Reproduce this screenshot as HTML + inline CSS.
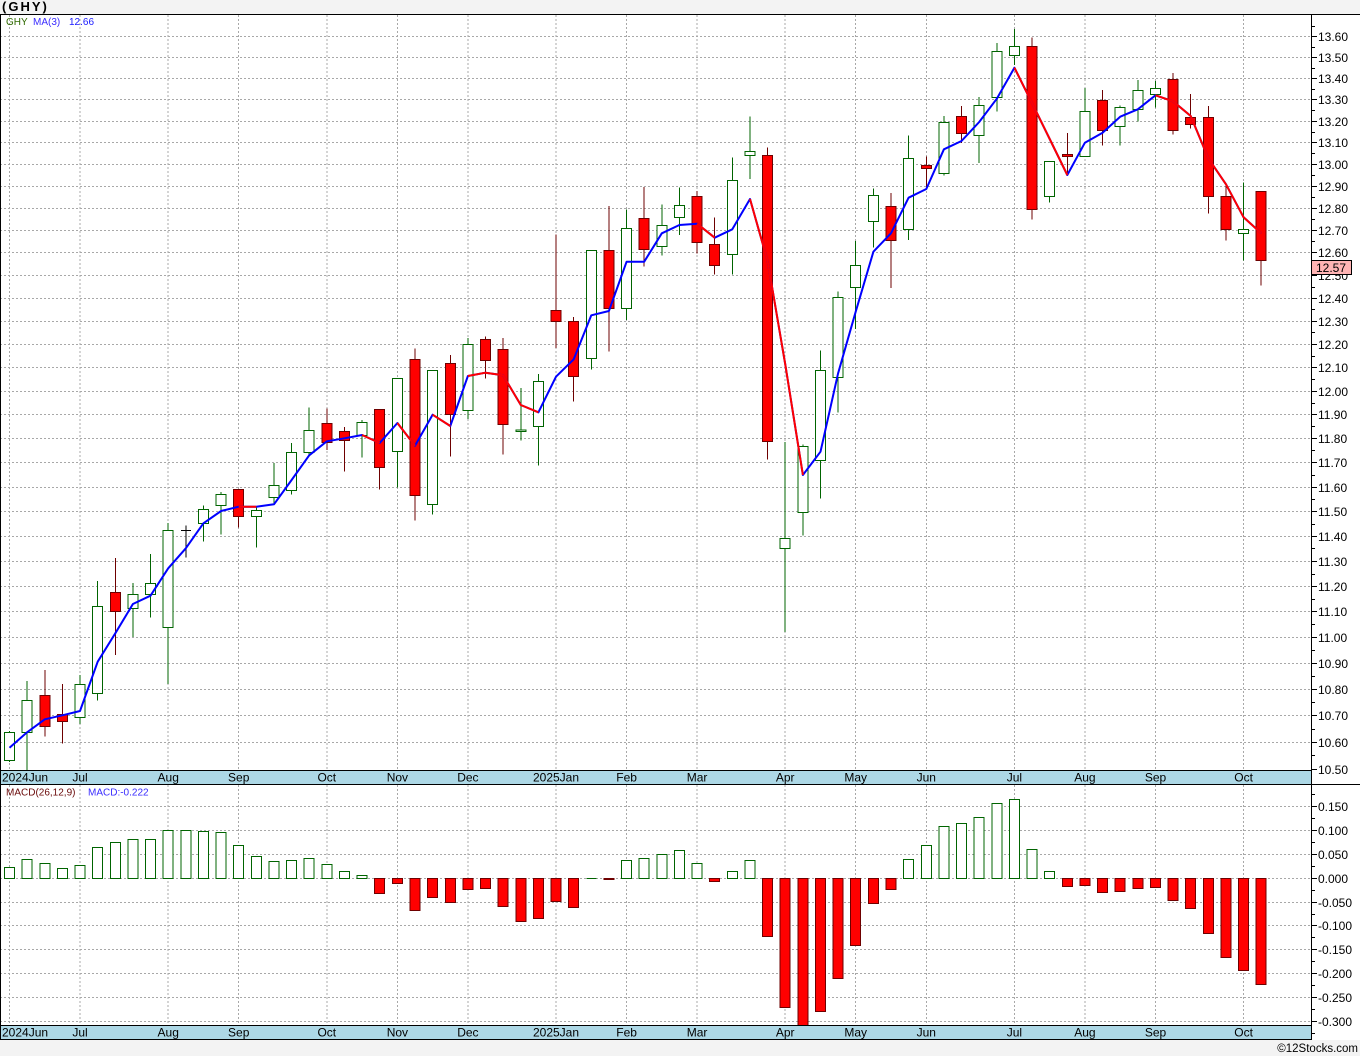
<!DOCTYPE html>
<html><head><meta charset="utf-8"><style>
html,body{margin:0;padding:0;background:#f3f3f3;}
svg{display:block;}
text{font-family:"Liberation Sans",Arial,sans-serif;}
</style></head><body>
<svg width="1360" height="1056" viewBox="0 0 1360 1056" xmlns="http://www.w3.org/2000/svg">
<rect x="0" y="0" width="1360" height="1056" fill="#f3f3f3"/>
<rect x="0" y="14" width="1360" height="1026" fill="#ffffff"/>
<text x="2" y="11" font-size="13" font-weight="bold" letter-spacing="2" fill="#000">(GHY)</text>

<!-- main horizontal grid -->
<g stroke="#a8a8a8" stroke-width="1" stroke-dasharray="2,2" shape-rendering="crispEdges">
<line x1="0" x2="1311" y1="36.5" y2="36.5"/><line x1="0" x2="1311" y1="57.5" y2="57.5"/><line x1="0" x2="1311" y1="78.5" y2="78.5"/><line x1="0" x2="1311" y1="99.5" y2="99.5"/><line x1="0" x2="1311" y1="121.5" y2="121.5"/><line x1="0" x2="1311" y1="142.5" y2="142.5"/><line x1="0" x2="1311" y1="164.5" y2="164.5"/><line x1="0" x2="1311" y1="186.5" y2="186.5"/><line x1="0" x2="1311" y1="208.5" y2="208.5"/><line x1="0" x2="1311" y1="230.5" y2="230.5"/><line x1="0" x2="1311" y1="252.5" y2="252.5"/><line x1="0" x2="1311" y1="275.5" y2="275.5"/><line x1="0" x2="1311" y1="298.5" y2="298.5"/><line x1="0" x2="1311" y1="321.5" y2="321.5"/><line x1="0" x2="1311" y1="344.5" y2="344.5"/><line x1="0" x2="1311" y1="367.5" y2="367.5"/><line x1="0" x2="1311" y1="391.5" y2="391.5"/><line x1="0" x2="1311" y1="414.5" y2="414.5"/><line x1="0" x2="1311" y1="438.5" y2="438.5"/><line x1="0" x2="1311" y1="462.5" y2="462.5"/><line x1="0" x2="1311" y1="487.5" y2="487.5"/><line x1="0" x2="1311" y1="511.5" y2="511.5"/><line x1="0" x2="1311" y1="536.5" y2="536.5"/><line x1="0" x2="1311" y1="561.5" y2="561.5"/><line x1="0" x2="1311" y1="586.5" y2="586.5"/><line x1="0" x2="1311" y1="611.5" y2="611.5"/><line x1="0" x2="1311" y1="637.5" y2="637.5"/><line x1="0" x2="1311" y1="663.5" y2="663.5"/><line x1="0" x2="1311" y1="689.5" y2="689.5"/><line x1="0" x2="1311" y1="715.5" y2="715.5"/><line x1="0" x2="1311" y1="742.5" y2="742.5"/>
<!-- macd grid -->
<line x1="0" x2="1311" y1="806.5" y2="806.5"/><line x1="0" x2="1311" y1="830.5" y2="830.5"/><line x1="0" x2="1311" y1="854.5" y2="854.5"/><line x1="0" x2="1311" y1="878.5" y2="878.5"/><line x1="0" x2="1311" y1="902.5" y2="902.5"/><line x1="0" x2="1311" y1="925.5" y2="925.5"/><line x1="0" x2="1311" y1="949.5" y2="949.5"/><line x1="0" x2="1311" y1="973.5" y2="973.5"/><line x1="0" x2="1311" y1="997.5" y2="997.5"/><line x1="0" x2="1311" y1="1021.5" y2="1021.5"/>
</g>
<!-- vertical grid -->
<g stroke="#a8a8a8" stroke-width="1" stroke-dasharray="2,2" shape-rendering="crispEdges">
<line x1="9.5" x2="9.5" y1="15" y2="770"/><line x1="80" x2="80" y1="15" y2="770"/><line x1="168.2" x2="168.2" y1="15" y2="770"/><line x1="238.7" x2="238.7" y1="15" y2="770"/><line x1="326.8" x2="326.8" y1="15" y2="770"/><line x1="397.4" x2="397.4" y1="15" y2="770"/><line x1="467.9" x2="467.9" y1="15" y2="770"/><line x1="556" x2="556" y1="15" y2="770"/><line x1="626.6" x2="626.6" y1="15" y2="770"/><line x1="697.1" x2="697.1" y1="15" y2="770"/><line x1="785.2" x2="785.2" y1="15" y2="770"/><line x1="855.7" x2="855.7" y1="15" y2="770"/><line x1="926.3" x2="926.3" y1="15" y2="770"/><line x1="1014.4" x2="1014.4" y1="15" y2="770"/><line x1="1084.9" x2="1084.9" y1="15" y2="770"/><line x1="1155.5" x2="1155.5" y1="15" y2="770"/><line x1="1243.6" x2="1243.6" y1="15" y2="770"/>
<line x1="9.5" x2="9.5" y1="785" y2="1025"/><line x1="80" x2="80" y1="785" y2="1025"/><line x1="168.2" x2="168.2" y1="785" y2="1025"/><line x1="238.7" x2="238.7" y1="785" y2="1025"/><line x1="326.8" x2="326.8" y1="785" y2="1025"/><line x1="397.4" x2="397.4" y1="785" y2="1025"/><line x1="467.9" x2="467.9" y1="785" y2="1025"/><line x1="556" x2="556" y1="785" y2="1025"/><line x1="626.6" x2="626.6" y1="785" y2="1025"/><line x1="697.1" x2="697.1" y1="785" y2="1025"/><line x1="785.2" x2="785.2" y1="785" y2="1025"/><line x1="855.7" x2="855.7" y1="785" y2="1025"/><line x1="926.3" x2="926.3" y1="785" y2="1025"/><line x1="1014.4" x2="1014.4" y1="785" y2="1025"/><line x1="1084.9" x2="1084.9" y1="785" y2="1025"/><line x1="1155.5" x2="1155.5" y1="785" y2="1025"/><line x1="1243.6" x2="1243.6" y1="785" y2="1025"/>
</g>

<!-- legends -->
<text x="6" y="25" font-size="10" fill="#2f6a00">GHY</text>
<text x="33" y="25" font-size="10" fill="#3a2cff">MA(3)</text>
<text x="69" y="25" font-size="10" fill="#1a1aff">12.66</text>
<text x="6" y="795.5" font-size="10" fill="#6a0a0a">MACD(26,12,9)</text>
<text x="88" y="795.5" font-size="10" fill="#3a2cff">MACD:-0.222</text>

<!-- candles: green -->
<g stroke="#006400" fill="#ffffff" stroke-width="1" shape-rendering="crispEdges">
<line x1="9.5" x2="9.5" y1="731" y2="762"/><rect x="4.5" y="732.5" width="10" height="28"/>
<line x1="27.1" x2="27.1" y1="681" y2="770"/><rect x="22.1" y="700.5" width="10" height="32"/>
<line x1="80" x2="80" y1="675" y2="724"/><rect x="75" y="684.5" width="10" height="33"/>
<line x1="97.7" x2="97.7" y1="581" y2="700.7"/><rect x="92.7" y="606.5" width="10" height="87"/>
<line x1="132.9" x2="132.9" y1="583" y2="637"/><rect x="127.9" y="594.5" width="10" height="14"/>
<line x1="150.5" x2="150.5" y1="554" y2="617.7"/><rect x="145.5" y="583.5" width="10" height="11"/>
<line x1="168.2" x2="168.2" y1="523" y2="684"/><rect x="163.2" y="530.5" width="10" height="97"/>
<line x1="203.4" x2="203.4" y1="505.3" y2="541.7"/><rect x="198.4" y="509.5" width="10" height="14"/>
<line x1="221.1" x2="221.1" y1="492" y2="534.7"/><rect x="216.1" y="494.5" width="10" height="11"/>
<line x1="256.3" x2="256.3" y1="507.7" y2="547.7"/><rect x="251.3" y="510.5" width="10" height="6"/>
<line x1="274" x2="274" y1="463" y2="503.3"/><rect x="269" y="485.5" width="10" height="12"/>
<line x1="291.6" x2="291.6" y1="443" y2="494.7"/><rect x="286.6" y="452.5" width="10" height="38"/>
<line x1="309.2" x2="309.2" y1="407.7" y2="455"/><rect x="304.2" y="430.5" width="10" height="22"/>
<line x1="362.1" x2="362.1" y1="420" y2="457.3"/><rect x="357.1" y="422.5" width="10" height="13"/>
<line x1="397.4" x2="397.4" y1="378" y2="487.3"/><rect x="392.4" y="378.5" width="10" height="73"/>
<line x1="432.6" x2="432.6" y1="370" y2="514.3"/><rect x="427.6" y="370.5" width="10" height="134"/>
<line x1="467.9" x2="467.9" y1="338" y2="419"/><rect x="462.9" y="344.5" width="10" height="66"/>
<line x1="520.8" x2="520.8" y1="388" y2="440.7"/><rect x="515.8" y="430" width="10" height="1.5"/>
<line x1="538.4" x2="538.4" y1="374" y2="465.7"/><rect x="533.4" y="381.5" width="10" height="45"/>
<line x1="591.3" x2="591.3" y1="250" y2="369.7"/><rect x="586.3" y="250.5" width="10" height="108"/>
<line x1="626.6" x2="626.6" y1="209.3" y2="320"/><rect x="621.6" y="228.5" width="10" height="80"/>
<line x1="661.8" x2="661.8" y1="204.7" y2="255.7"/><rect x="656.8" y="225.5" width="10" height="21"/>
<line x1="679.4" x2="679.4" y1="187.7" y2="235"/><rect x="674.4" y="205.5" width="10" height="12"/>
<line x1="732.3" x2="732.3" y1="157.3" y2="274.3"/><rect x="727.3" y="180.5" width="10" height="74"/>
<line x1="750" x2="750" y1="116.7" y2="179"/><rect x="745" y="151.5" width="10" height="4"/>
<line x1="785.2" x2="785.2" y1="442" y2="632"/><rect x="780.2" y="538.5" width="10" height="10"/>
<line x1="802.9" x2="802.9" y1="444.3" y2="535.7"/><rect x="797.9" y="446.5" width="10" height="66"/>
<line x1="820.5" x2="820.5" y1="350.7" y2="498.3"/><rect x="815.5" y="370.5" width="10" height="90"/>
<line x1="838.1" x2="838.1" y1="291.3" y2="412.3"/><rect x="833.1" y="297.5" width="10" height="80"/>
<line x1="855.7" x2="855.7" y1="241" y2="329"/><rect x="850.7" y="265.5" width="10" height="22"/>
<line x1="873.4" x2="873.4" y1="188.7" y2="247.7"/><rect x="868.4" y="195.5" width="10" height="26"/>
<line x1="908.6" x2="908.6" y1="135.7" y2="240"/><rect x="903.6" y="158.5" width="10" height="71"/>
<line x1="943.9" x2="943.9" y1="116" y2="175.7"/><rect x="938.9" y="122.5" width="10" height="51"/>
<line x1="979.2" x2="979.2" y1="97" y2="163"/><rect x="974.2" y="105.5" width="10" height="30"/>
<line x1="996.8" x2="996.8" y1="43" y2="111.7"/><rect x="991.8" y="51.5" width="10" height="46"/>
<line x1="1014.4" x2="1014.4" y1="29" y2="65"/><rect x="1009.4" y="46.5" width="10" height="9"/>
<line x1="1049.7" x2="1049.7" y1="161" y2="202.7"/><rect x="1044.7" y="161.5" width="10" height="35"/>
<line x1="1084.9" x2="1084.9" y1="88" y2="156.5"/><rect x="1079.9" y="111.5" width="10" height="45"/>
<line x1="1120.2" x2="1120.2" y1="105.3" y2="145.7"/><rect x="1115.2" y="107.5" width="10" height="19"/>
<line x1="1137.8" x2="1137.8" y1="80" y2="121.7"/><rect x="1132.8" y="90.5" width="10" height="19"/>
<line x1="1155.5" x2="1155.5" y1="81" y2="107.3"/><rect x="1150.5" y="88.5" width="10" height="6"/>
<line x1="1243.6" x2="1243.6" y1="182.7" y2="260.7"/><rect x="1238.6" y="229.5" width="10" height="4"/>
</g>
<!-- candles: red -->
<g stroke="#6e0000" fill="#ff0000" stroke-width="1" shape-rendering="crispEdges">
<line x1="44.8" x2="44.8" y1="670" y2="736.7"/><rect x="39.8" y="695.5" width="10" height="31"/>
<line x1="62.4" x2="62.4" y1="684" y2="743.3"/><rect x="57.4" y="714.5" width="10" height="7"/>
<line x1="115.3" x2="115.3" y1="558" y2="655"/><rect x="110.3" y="592.5" width="10" height="19"/>
<line x1="238.7" x2="238.7" y1="489" y2="527.7"/><rect x="233.7" y="489.5" width="10" height="27"/>
<line x1="326.8" x2="326.8" y1="408.7" y2="450"/><rect x="321.8" y="423.5" width="10" height="19"/>
<line x1="344.5" x2="344.5" y1="427" y2="471.7"/><rect x="339.5" y="431.5" width="10" height="9"/>
<line x1="379.7" x2="379.7" y1="409" y2="489.3"/><rect x="374.7" y="409.5" width="10" height="58"/>
<line x1="415" x2="415" y1="348.3" y2="520.7"/><rect x="410" y="359.5" width="10" height="136"/>
<line x1="450.3" x2="450.3" y1="355" y2="456.7"/><rect x="445.3" y="363.5" width="10" height="51"/>
<line x1="485.5" x2="485.5" y1="336.7" y2="378.7"/><rect x="480.5" y="339.5" width="10" height="21"/>
<line x1="503.1" x2="503.1" y1="338" y2="454.7"/><rect x="498.1" y="349.5" width="10" height="75"/>
<line x1="556" x2="556" y1="234.7" y2="348"/><rect x="551" y="310.5" width="10" height="11"/>
<line x1="573.7" x2="573.7" y1="317" y2="401.7"/><rect x="568.7" y="321.5" width="10" height="55"/>
<line x1="608.9" x2="608.9" y1="206" y2="351.7"/><rect x="603.9" y="250.5" width="10" height="58"/>
<line x1="644.2" x2="644.2" y1="187" y2="266.7"/><rect x="639.2" y="218.5" width="10" height="31"/>
<line x1="697.1" x2="697.1" y1="191" y2="253.7"/><rect x="692.1" y="196.5" width="10" height="46"/>
<line x1="714.7" x2="714.7" y1="217.3" y2="274.3"/><rect x="709.7" y="244.5" width="10" height="21"/>
<line x1="767.6" x2="767.6" y1="147.7" y2="459.7"/><rect x="762.6" y="155.5" width="10" height="286"/>
<line x1="891" x2="891" y1="193" y2="288"/><rect x="886" y="206.5" width="10" height="34"/>
<line x1="926.3" x2="926.3" y1="156.3" y2="188.7"/><rect x="921.3" y="165.5" width="10" height="3"/>
<line x1="961.5" x2="961.5" y1="106" y2="143"/><rect x="956.5" y="116.5" width="10" height="17"/>
<line x1="1032" x2="1032" y1="37.7" y2="219.7"/><rect x="1027" y="46.5" width="10" height="163"/>
<line x1="1067.3" x2="1067.3" y1="133" y2="175"/><rect x="1062.3" y="154.5" width="10" height="2"/>
<line x1="1102.6" x2="1102.6" y1="90" y2="145.7"/><rect x="1097.6" y="100.5" width="10" height="30"/>
<line x1="1173.1" x2="1173.1" y1="73" y2="134.7"/><rect x="1168.1" y="79.5" width="10" height="51"/>
<line x1="1190.7" x2="1190.7" y1="94" y2="128.7"/><rect x="1185.7" y="117.5" width="10" height="7"/>
<line x1="1208.3" x2="1208.3" y1="106" y2="213.3"/><rect x="1203.3" y="117.5" width="10" height="79"/>
<line x1="1226" x2="1226" y1="185.7" y2="240.7"/><rect x="1221" y="196.5" width="10" height="33"/>
<line x1="1261.2" x2="1261.2" y1="191" y2="285.7"/><rect x="1256.2" y="191.5" width="10" height="69"/>
</g>
<!-- black doji -->
<g stroke="#000" stroke-width="1" shape-rendering="crispEdges">
<line x1="185.8" x2="185.8" y1="525.7" y2="557.7"/><line x1="180.8" x2="190.8" y1="530.5" y2="530.5"/>
</g>

<!-- MA line -->
<polyline fill="none" stroke="#0000ff" stroke-width="2" stroke-linejoin="round" points="9.5,747.7 27.1,732.3 44.8,719.3 62.4,715.3 80,711 97.7,661.7 115.3,633.3 132.9,604 150.5,595.7 168.2,568.3 185.8,548.3 203.4,523.3 221.1,511 238.7,506.7 256.3,506.7 274,504.3 291.6,480 309.2,455.3 326.8,441.3 344.5,438.3 362.1,435 379.7,443 397.4,423 415,445.7 432.6,414.7 450.3,426 467.9,376 485.5,372.7 503.1,375.3 520.8,405 538.4,412.3 556,376.7 573.7,359.3 591.3,315.3 608.9,311 626.6,261.7 644.2,261.7 661.8,233.3 679.4,225 697.1,223.7 714.7,237.7 732.3,229.3 750,199 767.6,261 785.2,364 802.9,475 820.5,451.7 838.1,373.3 855.7,311.7 873.4,251.7 891,233.3 908.6,197.7 926.3,189 943.9,149.3 961.5,141 979.2,122 996.8,98.7 1014.4,67.7 1032,103 1049.7,139 1067.3,175 1084.9,142.7 1102.6,132.7 1120.2,116.7 1137.8,109.3 1155.5,95.3 1173.1,101.3 1190.7,116 1208.3,158.3 1226,184.3 1243.6,217.3 1261.2,233.3"/>
<g fill="none" stroke="#ff0000" stroke-width="2" stroke-linejoin="round">
<polyline points="238.7,506.7 256.3,506.7"/>
<polyline points="362.1,435 379.7,443"/>
<polyline points="397.4,423 415,445.7"/>
<polyline points="432.6,414.7 450.3,426"/>
<polyline points="467.9,376 485.5,372.7 503.1,375.3 520.8,405 538.4,412.3"/>
<polyline points="697.1,223.7 714.7,237.7"/>
<polyline points="750,199 767.6,261 785.2,364 802.9,475"/>
<polyline points="1014.4,67.7 1032,103 1049.7,139 1067.3,175"/>
<polyline points="1155.5,95.3 1173.1,101.3 1190.7,116 1208.3,158.3 1226,184.3 1243.6,217.3 1261.2,233.3"/>
</g>

<!-- MACD bars green -->
<g stroke="#006400" fill="#ffffff" stroke-width="1" shape-rendering="crispEdges">
<rect x="4.5" y="867.5" width="10" height="11"/><rect x="22.1" y="859.5" width="10" height="19"/><rect x="39.8" y="863.5" width="10" height="15"/><rect x="57.4" y="868.5" width="10" height="10"/><rect x="75" y="865.5" width="10" height="13"/><rect x="92.7" y="847.5" width="10" height="31"/><rect x="110.3" y="842.5" width="10" height="36"/><rect x="127.9" y="839.5" width="10" height="39"/><rect x="145.5" y="839.5" width="10" height="39"/><rect x="163.2" y="830.5" width="10" height="48"/><rect x="180.8" y="830.5" width="10" height="48"/><rect x="198.4" y="831.5" width="10" height="47"/><rect x="216.1" y="832.5" width="10" height="46"/><rect x="233.7" y="845.5" width="10" height="33"/><rect x="251.3" y="856.5" width="10" height="22"/><rect x="269" y="861.5" width="10" height="17"/><rect x="286.6" y="860.5" width="10" height="18"/><rect x="304.2" y="858.5" width="10" height="20"/><rect x="321.8" y="864.5" width="10" height="14"/><rect x="339.5" y="871.5" width="10" height="7"/><rect x="357.1" y="875.5" width="10" height="3"/>
<line x1="586.3" x2="596.3" y1="878.5" y2="878.5"/>
<rect x="621.6" y="860.5" width="10" height="18"/><rect x="639.2" y="858.5" width="10" height="20"/><rect x="656.8" y="854.5" width="10" height="24"/><rect x="674.4" y="850.5" width="10" height="28"/><rect x="692.1" y="863.5" width="10" height="15"/><rect x="727.3" y="871.5" width="10" height="7"/><rect x="745" y="860.5" width="10" height="18"/>
<rect x="903.6" y="859.5" width="10" height="19"/><rect x="921.3" y="845.5" width="10" height="33"/><rect x="938.9" y="826.5" width="10" height="52"/><rect x="956.5" y="823.5" width="10" height="55"/><rect x="974.2" y="817.5" width="10" height="61"/><rect x="991.8" y="803.5" width="10" height="75"/><rect x="1009.4" y="799.5" width="10" height="79"/><rect x="1027" y="849.5" width="10" height="29"/><rect x="1044.7" y="871.5" width="10" height="7"/>
</g>
<!-- MACD bars red -->
<g stroke="#6e0000" fill="#ff0000" stroke-width="1" shape-rendering="crispEdges">
<rect x="374.7" y="878.5" width="10" height="15"/><rect x="392.4" y="878.5" width="10" height="5"/><rect x="410" y="878.5" width="10" height="32"/><rect x="427.6" y="878.5" width="10" height="19"/><rect x="445.3" y="878.5" width="10" height="24"/><rect x="462.9" y="878.5" width="10" height="11"/><rect x="480.5" y="878.5" width="10" height="10"/><rect x="498.1" y="878.5" width="10" height="28"/><rect x="515.8" y="878.5" width="10" height="43"/><rect x="533.4" y="878.5" width="10" height="40"/><rect x="551" y="878.5" width="10" height="23"/><rect x="568.7" y="878.5" width="10" height="29"/><rect x="603.9" y="878.5" width="10" height="1"/>
<rect x="709.7" y="878.5" width="10" height="3"/>
<rect x="762.6" y="878.5" width="10" height="58"/><rect x="780.2" y="878.5" width="10" height="129"/><rect x="797.9" y="878.5" width="10" height="147"/><rect x="815.5" y="878.5" width="10" height="133"/><rect x="833.1" y="878.5" width="10" height="100"/><rect x="850.7" y="878.5" width="10" height="67"/><rect x="868.4" y="878.5" width="10" height="25"/><rect x="886" y="878.5" width="10" height="11"/>
<rect x="1062.3" y="878.5" width="10" height="8"/><rect x="1079.9" y="878.5" width="10" height="7"/><rect x="1097.6" y="878.5" width="10" height="14"/><rect x="1115.2" y="878.5" width="10" height="13"/><rect x="1132.8" y="878.5" width="10" height="10"/><rect x="1150.5" y="878.5" width="10" height="9"/><rect x="1168.1" y="878.5" width="10" height="22"/><rect x="1185.7" y="878.5" width="10" height="30"/><rect x="1203.3" y="878.5" width="10" height="55"/><rect x="1221" y="878.5" width="10" height="79"/><rect x="1238.6" y="878.5" width="10" height="92"/><rect x="1256.2" y="878.5" width="10" height="106"/>
</g>

<!-- date bands -->
<rect x="0" y="770" width="1311" height="14.5" fill="#add8e6"/>
<rect x="0" y="1025" width="1311" height="15" fill="#add8e6"/>
<rect x="0" y="1040" width="1360" height="16" fill="#f3f3f3"/>
<g stroke="#000" stroke-width="1" shape-rendering="crispEdges">
<line x1="0" x2="1360" y1="14.5" y2="14.5"/>
<line x1="0" x2="1311" y1="770.5" y2="770.5"/>
<line x1="0" x2="1360" y1="784.5" y2="784.5"/>
<line x1="0" x2="1311" y1="1025.5" y2="1025.5"/>
<line x1="0" x2="1311" y1="1039.5" y2="1039.5"/>
<line x1="0.5" x2="0.5" y1="14" y2="1040"/>
<line x1="1311.5" x2="1311.5" y1="14" y2="1040"/>
</g>
<g font-size="12" fill="#000">
<text x="2" y="781.5">2024Jun</text>
<text x="80" y="781.5" text-anchor="middle">Jul</text>
<text x="168.2" y="781.5" text-anchor="middle">Aug</text>
<text x="238.7" y="781.5" text-anchor="middle">Sep</text>
<text x="326.8" y="781.5" text-anchor="middle">Oct</text>
<text x="397.4" y="781.5" text-anchor="middle">Nov</text>
<text x="467.9" y="781.5" text-anchor="middle">Dec</text>
<text x="556" y="781.5" text-anchor="middle">2025Jan</text>
<text x="626.6" y="781.5" text-anchor="middle">Feb</text>
<text x="697.1" y="781.5" text-anchor="middle">Mar</text>
<text x="785.2" y="781.5" text-anchor="middle">Apr</text>
<text x="855.7" y="781.5" text-anchor="middle">May</text>
<text x="926.3" y="781.5" text-anchor="middle">Jun</text>
<text x="1014.4" y="781.5" text-anchor="middle">Jul</text>
<text x="1084.9" y="781.5" text-anchor="middle">Aug</text>
<text x="1155.5" y="781.5" text-anchor="middle">Sep</text>
<text x="1243.6" y="781.5" text-anchor="middle">Oct</text>
<text x="2" y="1036.5">2024Jun</text>
<text x="80" y="1036.5" text-anchor="middle">Jul</text>
<text x="168.2" y="1036.5" text-anchor="middle">Aug</text>
<text x="238.7" y="1036.5" text-anchor="middle">Sep</text>
<text x="326.8" y="1036.5" text-anchor="middle">Oct</text>
<text x="397.4" y="1036.5" text-anchor="middle">Nov</text>
<text x="467.9" y="1036.5" text-anchor="middle">Dec</text>
<text x="556" y="1036.5" text-anchor="middle">2025Jan</text>
<text x="626.6" y="1036.5" text-anchor="middle">Feb</text>
<text x="697.1" y="1036.5" text-anchor="middle">Mar</text>
<text x="785.2" y="1036.5" text-anchor="middle">Apr</text>
<text x="855.7" y="1036.5" text-anchor="middle">May</text>
<text x="926.3" y="1036.5" text-anchor="middle">Jun</text>
<text x="1014.4" y="1036.5" text-anchor="middle">Jul</text>
<text x="1084.9" y="1036.5" text-anchor="middle">Aug</text>
<text x="1155.5" y="1036.5" text-anchor="middle">Sep</text>
<text x="1243.6" y="1036.5" text-anchor="middle">Oct</text>
</g>

<!-- right axis ticks -->
<g stroke="#000" stroke-width="1" shape-rendering="crispEdges">
<line x1="1311" x2="1317" y1="36.5" y2="36.5"/><line x1="1311" x2="1317" y1="57.5" y2="57.5"/><line x1="1311" x2="1317" y1="78.5" y2="78.5"/><line x1="1311" x2="1317" y1="99.5" y2="99.5"/><line x1="1311" x2="1317" y1="121.5" y2="121.5"/><line x1="1311" x2="1317" y1="142.5" y2="142.5"/><line x1="1311" x2="1317" y1="164.5" y2="164.5"/><line x1="1311" x2="1317" y1="186.5" y2="186.5"/><line x1="1311" x2="1317" y1="208.5" y2="208.5"/><line x1="1311" x2="1317" y1="230.5" y2="230.5"/><line x1="1311" x2="1317" y1="252.5" y2="252.5"/><line x1="1311" x2="1317" y1="275.5" y2="275.5"/><line x1="1311" x2="1317" y1="298.5" y2="298.5"/><line x1="1311" x2="1317" y1="321.5" y2="321.5"/><line x1="1311" x2="1317" y1="344.5" y2="344.5"/><line x1="1311" x2="1317" y1="367.5" y2="367.5"/><line x1="1311" x2="1317" y1="391.5" y2="391.5"/><line x1="1311" x2="1317" y1="414.5" y2="414.5"/><line x1="1311" x2="1317" y1="438.5" y2="438.5"/><line x1="1311" x2="1317" y1="462.5" y2="462.5"/><line x1="1311" x2="1317" y1="487.5" y2="487.5"/><line x1="1311" x2="1317" y1="511.5" y2="511.5"/><line x1="1311" x2="1317" y1="536.5" y2="536.5"/><line x1="1311" x2="1317" y1="561.5" y2="561.5"/><line x1="1311" x2="1317" y1="586.5" y2="586.5"/><line x1="1311" x2="1317" y1="611.5" y2="611.5"/><line x1="1311" x2="1317" y1="637.5" y2="637.5"/><line x1="1311" x2="1317" y1="663.5" y2="663.5"/><line x1="1311" x2="1317" y1="689.5" y2="689.5"/><line x1="1311" x2="1317" y1="715.5" y2="715.5"/><line x1="1311" x2="1317" y1="742.5" y2="742.5"/><line x1="1311" x2="1317" y1="769.5" y2="769.5"/>
<line x1="1311" x2="1315" y1="26.5" y2="26.5"/><line x1="1311" x2="1315" y1="47.5" y2="47.5"/><line x1="1311" x2="1315" y1="68.5" y2="68.5"/><line x1="1311" x2="1315" y1="89.5" y2="89.5"/><line x1="1311" x2="1315" y1="110.5" y2="110.5"/><line x1="1311" x2="1315" y1="132.5" y2="132.5"/><line x1="1311" x2="1315" y1="153.5" y2="153.5"/><line x1="1311" x2="1315" y1="175.5" y2="175.5"/><line x1="1311" x2="1315" y1="197.5" y2="197.5"/><line x1="1311" x2="1315" y1="219.5" y2="219.5"/><line x1="1311" x2="1315" y1="241.5" y2="241.5"/><line x1="1311" x2="1315" y1="264.5" y2="264.5"/><line x1="1311" x2="1315" y1="287.5" y2="287.5"/><line x1="1311" x2="1315" y1="309.5" y2="309.5"/><line x1="1311" x2="1315" y1="332.5" y2="332.5"/><line x1="1311" x2="1315" y1="356.5" y2="356.5"/><line x1="1311" x2="1315" y1="379.5" y2="379.5"/><line x1="1311" x2="1315" y1="403.5" y2="403.5"/><line x1="1311" x2="1315" y1="426.5" y2="426.5"/><line x1="1311" x2="1315" y1="450.5" y2="450.5"/><line x1="1311" x2="1315" y1="475.5" y2="475.5"/><line x1="1311" x2="1315" y1="499.5" y2="499.5"/><line x1="1311" x2="1315" y1="524.5" y2="524.5"/><line x1="1311" x2="1315" y1="548.5" y2="548.5"/><line x1="1311" x2="1315" y1="574.5" y2="574.5"/><line x1="1311" x2="1315" y1="599.5" y2="599.5"/><line x1="1311" x2="1315" y1="624.5" y2="624.5"/><line x1="1311" x2="1315" y1="650.5" y2="650.5"/><line x1="1311" x2="1315" y1="676.5" y2="676.5"/><line x1="1311" x2="1315" y1="702.5" y2="702.5"/><line x1="1311" x2="1315" y1="729.5" y2="729.5"/><line x1="1311" x2="1315" y1="755.5" y2="755.5"/>
<line x1="1311" x2="1317" y1="806.5" y2="806.5"/><line x1="1311" x2="1317" y1="830.5" y2="830.5"/><line x1="1311" x2="1317" y1="854.5" y2="854.5"/><line x1="1311" x2="1317" y1="878.5" y2="878.5"/><line x1="1311" x2="1317" y1="902.5" y2="902.5"/><line x1="1311" x2="1317" y1="925.5" y2="925.5"/><line x1="1311" x2="1317" y1="949.5" y2="949.5"/><line x1="1311" x2="1317" y1="973.5" y2="973.5"/><line x1="1311" x2="1317" y1="997.5" y2="997.5"/><line x1="1311" x2="1317" y1="1021.5" y2="1021.5"/>
<line x1="1311" x2="1315" y1="794.5" y2="794.5"/><line x1="1311" x2="1315" y1="818.5" y2="818.5"/><line x1="1311" x2="1315" y1="842.5" y2="842.5"/><line x1="1311" x2="1315" y1="866.5" y2="866.5"/><line x1="1311" x2="1315" y1="890.5" y2="890.5"/><line x1="1311" x2="1315" y1="914.5" y2="914.5"/><line x1="1311" x2="1315" y1="937.5" y2="937.5"/><line x1="1311" x2="1315" y1="961.5" y2="961.5"/><line x1="1311" x2="1315" y1="985.5" y2="985.5"/><line x1="1311" x2="1315" y1="1009.5" y2="1009.5"/><line x1="1311" x2="1315" y1="1033.5" y2="1033.5"/>
</g>
<g font-size="12" fill="#000">
<text x="1318" y="41">13.60</text><text x="1318" y="62">13.50</text><text x="1318" y="83">13.40</text><text x="1318" y="104">13.30</text><text x="1318" y="126">13.20</text><text x="1318" y="147">13.10</text><text x="1318" y="169">13.00</text><text x="1318" y="191">12.90</text><text x="1318" y="213">12.80</text><text x="1318" y="235">12.70</text><text x="1318" y="257">12.60</text><text x="1318" y="280">12.50</text><text x="1318" y="303">12.40</text><text x="1318" y="326">12.30</text><text x="1318" y="349">12.20</text><text x="1318" y="372">12.10</text><text x="1318" y="396">12.00</text><text x="1318" y="419">11.90</text><text x="1318" y="443">11.80</text><text x="1318" y="467">11.70</text><text x="1318" y="492">11.60</text><text x="1318" y="516">11.50</text><text x="1318" y="541">11.40</text><text x="1318" y="566">11.30</text><text x="1318" y="591">11.20</text><text x="1318" y="616">11.10</text><text x="1318" y="642">11.00</text><text x="1318" y="668">10.90</text><text x="1318" y="694">10.80</text><text x="1318" y="720">10.70</text><text x="1318" y="747">10.60</text><text x="1318" y="774">10.50</text>
<text x="1318" y="811">0.150</text><text x="1318" y="835">0.100</text><text x="1318" y="859">0.050</text><text x="1318" y="883">0.000</text><text x="1318" y="907">-0.050</text><text x="1318" y="930">-0.100</text><text x="1318" y="954">-0.150</text><text x="1318" y="978">-0.200</text><text x="1318" y="1002">-0.250</text><text x="1318" y="1026">-0.300</text>
</g>
<!-- price tag -->
<rect x="1311.5" y="260.5" width="40" height="14" fill="#ffb4b4" stroke="#000" stroke-width="1" shape-rendering="crispEdges"/>
<text x="1316" y="272" font-size="12" fill="#000">12.57</text>

<text x="1358" y="1052" font-size="11.5" fill="#000" text-anchor="end">©12Stocks.com</text>
</svg>
</body></html>
